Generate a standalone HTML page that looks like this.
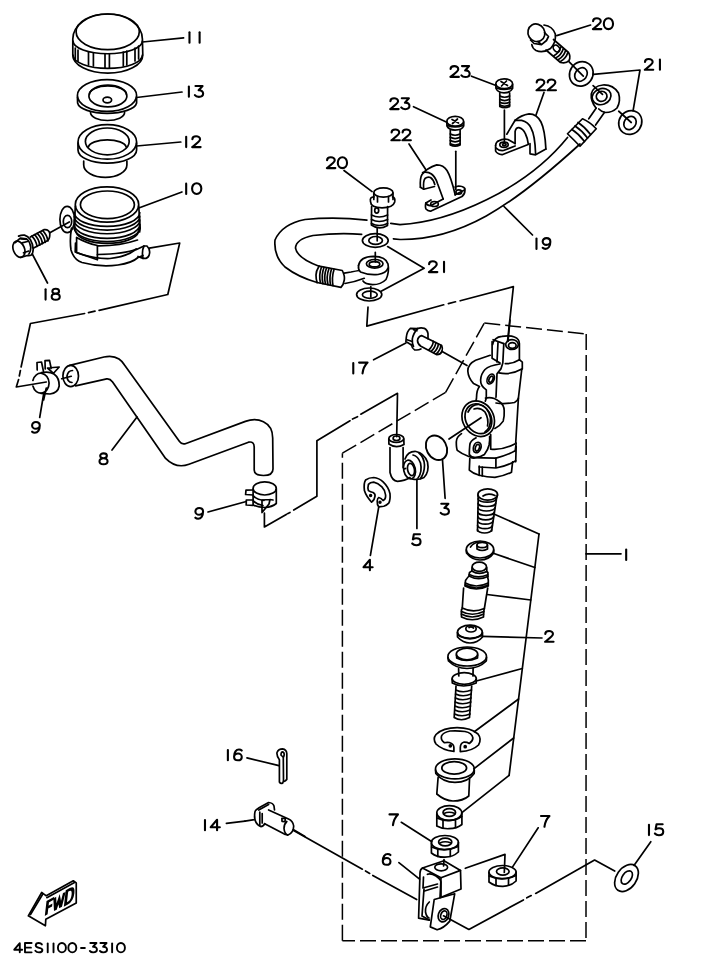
<!DOCTYPE html>
<html><head><meta charset="utf-8">
<style>
html,body{margin:0;padding:0;background:#fff;}
body{width:719px;height:966px;overflow:hidden;}
svg{display:block;}
svg text{font-family:"Liberation Sans",sans-serif;fill:#000;}
</style></head><body>
<svg width="719" height="966" viewBox="0 0 719 966">
<g fill="none" stroke="#000" stroke-width="1.7" stroke-linecap="round" stroke-linejoin="round">
<!-- PART 11 cap -->
<g id="p11">
<path d="M72.8 39 A34.8 25 0 0 1 142.4 39 L142.8 55 A35 18.2 0 0 1 72.8 55 Z"/>
<ellipse cx="107.7" cy="31.8" rx="31.6" ry="17.8"/>
<path d="M73 41 A34.6 12.7 0 0 0 142.4 41"/>
<path d="M73 55 A34.6 13.3 0 0 0 142.4 55"/>
<path d="M75.3 48 L75.3 59 M78 50 L78 61 M88.5 52 L88.5 65 M93.4 53 L93.4 66 M105 54 L105 68 M109.4 54 L109.4 68 M123.3 52 L123.3 66 M126.8 51 L126.8 65 M135 48 L135 61 M138.6 46 L138.6 59"/>
</g>
<path d="M142.5 42 L183.6 37.8"/>

<!-- PART 13 -->
<g id="p13">
<ellipse cx="107" cy="95.5" rx="29.6" ry="15.9"/>
<path d="M77.4 97 L77.6 103 A29.6 11.3 0 0 0 136.6 103 L136.6 97"/>
<ellipse cx="107.9" cy="96" rx="19" ry="10.8"/>
<path d="M89.4 94.5 A18.5 8.5 0 0 1 126.4 94.5"/>
<ellipse cx="107.3" cy="100" rx="4.3" ry="2.8"/>
<path d="M90.5 112.5 A17 8 0 0 0 124.6 112.5"/>
</g>
<path d="M136.6 97.5 L182 92"/>

<!-- PART 12 -->
<g id="p12">
<ellipse cx="107.3" cy="141.9" rx="29.3" ry="17.3"/>
<path d="M78 143 L78 150 A29.3 13.2 0 0 0 136.6 150 L136.6 143"/>
<ellipse cx="107.3" cy="141.4" rx="21.9" ry="13.4"/>
<path d="M88.4 147 A19 8 0 0 1 126.2 147"/>
<path d="M83.7 161 L83.7 165 A21.6 12.4 0 0 0 126.9 165 L126.9 161"/>
</g>
<path d="M136.6 146 L180.8 142"/>

<!-- PART 10 reservoir -->
<g id="p10">
<ellipse cx="107" cy="204.5" rx="31.7" ry="17.7"/>
<ellipse cx="107.4" cy="204.8" rx="27" ry="13.8"/>
<path d="M74.3 212.6 A32.6 13.8 0 0 0 139.8 212.6 M74.3 216.2 A32.6 13.8 0 0 0 139.8 216.2 M74.3 219.9 A32.6 13.8 0 0 0 139.8 219.9 M74.3 224.6 A32.6 13.8 0 0 0 139.8 224.6 M74.3 227.7 A32.6 13.8 0 0 0 139.8 227.7"/>
<path d="M75.3 206 L74.3 229 M138.7 206 L140.2 228 L139.6 232"/>
<path d="M76 232 A31.5 13 0 0 0 138.5 232"/>
<path d="M71.5 228 Q69.5 240 71 250 Q74 260 82 262.5 Q100 267.5 118 265 Q132 263 138 257.5 L143 255.5"/>
<path d="M75.5 243 L75.2 252 Q92 259 110 258.5 Q126 257 135.7 249.5"/>
<path d="M76.6 237.5 L76.6 252.5 L97.4 259.8 L97.4 245.5 M76.6 237.5 Q86 243 97.4 245.5"/>
<path d="M97.4 245.8 Q120 246 137.5 240 M97.4 254.5 Q125 254 136.5 249"/>
<path d="M136.5 249.5 L144 246 L147 246 Q150 249 149.6 253 Q149 257.5 146 258.4 L143 258.4 L138 256.5"/>
<path d="M144 246 Q141.5 251 143 258.4"/>
<ellipse cx="67.2" cy="219.5" rx="7.3" ry="13.2"/>
<ellipse cx="67.5" cy="221.5" rx="4.2" ry="6.2"/>
</g>
<path d="M138.8 208 L181.9 192"/>

<!-- PART 18 bolt -->
<g id="p18">
<ellipse cx="18.9" cy="249.2" rx="5.6" ry="8.4" transform="rotate(-22 18.9 249.2)"/>
<path d="M15.3 242.5 L20.3 238.2 L26.5 238.8 M20.8 257.4 L27.4 255.5"/>
<path d="M22 242.8 L27.5 241.5 M23.5 252.8 L28.8 251"/>
<path d="M18.6 236.1 Q21.5 234.8 24.5 235.1 Q28 236 30.3 239.5 Q33 244 33.2 249.2 Q33 253.5 31.3 255 Q29.5 256 27.4 255.5"/>
<path d="M21.1 239 L27.4 239.5 Q30 242 30.8 247.3 Q30.8 251.5 28.9 254.1"/>
<path d="M30.3 237 L43.9 229.7 Q48.8 229 49.8 233.5 Q50 238.5 47.8 240.4 L33.2 248.2"/>
<path d="M31.81 236.05 Q36.20 240.33 37.03 246.41 M34.53 234.68 Q38.92 238.96 39.74 245.04 M37.25 233.32 Q41.64 237.60 42.46 243.68 M39.96 231.95 Q44.36 236.23 45.18 242.31 M42.68 230.58 Q47.08 234.86 47.90 240.94"/>
</g>
<path d="M49.8 232.7 L69.3 222"/>
<path d="M32.3 254 L47.5 283"/>

<!-- dashed connection reservoir -> hose -->
<path d="M149.3 248.2 L179.7 243 L167.8 294.5 L99.1 310.3 M95 311.2 L88.5 312.6 M84.6 313.5 L30.4 323.5 L21.1 367 M20.4 370.5 L19.3 376 M18.6 379.5 L16.3 387 L46.3 382"/>

<!-- PART 9 upper clamp -->
<g id="p9a">
<path d="M32.9 380.5 A8.3 10.4 0 0 1 49.1 383 A8.3 10.4 0 0 1 32.9 386"/>
<path d="M41.5 372.6 Q49 371 54 374 Q59.5 378 59.2 386 Q58 393 50 394 L41 393.4"/>
<path d="M37.2 370 L37 362.5 L41.5 362 L43.5 371.5 M45.2 369 L45 360.6 L49.5 360.3 L51.2 368.5 M47.5 368 L59.2 367 L53.5 373.3 Z"/>
<path d="M43.6 400 L46.3 388"/>
</g>
<path d="M43.75 393.5 L39.7 417.5"/>

<!-- PART 8 hose -->
<g id="p8">
<ellipse cx="70.7" cy="376" rx="7.8" ry="10.7"/>
<path d="M72.5 370.5 Q68 370.5 67 376 Q67 382 72 382.5"/>
<path d="M61.7 378.75 L71.25 376.25"/>
<path d="M69.7 365.3 L104 357 Q113 355 119 359 Q122 361 124.5 365 L179.5 441.5 Q182 445 186 443.5 L245.4 421.4 C257 417 272.7 421 272.7 438 L273 469 Q273 475.5 263.5 475.5 Q254.2 475.5 254.2 470 L254.2 447 Q254.2 441 248.5 442.2 L189 464.3 Q176 469 165.6 458.4 L112.6 381.9 Q110 378.5 106.7 378.9 L75.6 385.8"/>
</g>
<path d="M112 450 L137 417"/>

<!-- PART 9 lower clamp -->
<g id="p9b">
<ellipse cx="264.7" cy="488.4" rx="11.6" ry="6.6"/>
<path d="M253.1 489 L253.1 505 Q258 507.5 265 507.5 Q272 507 276.3 503.5 L276.3 489"/>
<path d="M253.3 496 Q258 500 264 500.5 M253.3 501 Q258 505 263 505.5"/>
<path d="M253 490 L246 490.2 L245.6 494.5 L253 495 M253 500 L246.3 500 L246.2 505 L253 505.3"/>
<path d="M262 500 L270 499.5 L269 504 L262 512.5 Z M270 499.5 L273 500"/>
</g>
<path d="M208 512 L246.25 501.5"/>
<path d="M264.4 513.1 L264.4 526.9 L286.25 514.4 M287.5 513.7 L290 512.5 M293.75 510 L316.9 496.25 L316.9 440.8 L350 420.8 M352.5 419 L357.5 416.7 M360.8 414.2 L397.5 393.3 L396.7 436.7"/>

<!-- dashed leader banjo to body -->
<path d="M368 307.2 L366.8 326.1 L443.7 304.8 M448.4 303.6 L455.5 301.8 M460.2 300.8 L513.4 286.6 L507.5 341.5"/>

<!-- PART 20 left bolt -->
<g id="p20a">
<ellipse cx="383.4" cy="192.5" rx="9.6" ry="4.6"/>
<path d="M373.8 193 L373.8 199.5 M393 193 L393 199.5 M377.5 196.5 L377.5 202 M388.5 196.5 L388.5 202"/>
<path d="M370.5 201.5 Q369.5 197 374 196.8 M392.5 196.8 Q395.5 197.5 394.7 202 Q393 207.8 382 207.8 Q370.5 207.5 370.5 201.5"/>
<path d="M371.6 206.5 L371.4 225 Q379 230.5 387.5 225.5 L387.6 206.5"/>
<ellipse cx="376.7" cy="210.5" rx="2" ry="2.6"/>
<path d="M371.5 215 Q379 219 387.6 215 M371.5 219.5 Q379 223.5 387.6 219.5 M371.5 223.5 Q379 227.5 387.6 223.5"/>
</g>
<path d="M344 170.5 L372.1 191.6"/>
<path d="M377.2 228.5 L377.2 240.8"/>

<!-- washer 21 mid -->
<ellipse cx="375.3" cy="240.5" rx="12.9" ry="6.8"/>
<ellipse cx="375.6" cy="240.4" rx="6.8" ry="3.9"/>
<!-- banjo left -->
<g id="banjoA">
<path d="M358.5 265.5 Q360 256.5 373.5 256.3 Q386 256.5 388 264 Q389.5 272 386 279.5 Q381 284.7 372.5 284.7 Q365 284 363 281"/>
<path d="M358.5 265.5 Q358 269.5 360.5 272 Q369 275.5 378 274.5 Q386.5 273 388 268"/>
<ellipse cx="374.7" cy="263.8" rx="8.3" ry="4.3"/>
<ellipse cx="374.5" cy="264.2" rx="5.3" ry="2.6"/>
<path d="M375.3 252.4 L375.3 262"/>
</g>
<!-- washer 21 low -->
<ellipse cx="369.2" cy="294.5" rx="12.6" ry="6.5"/>
<ellipse cx="369.8" cy="294.8" rx="7.4" ry="3.6"/>
<path d="M370.8 286.7 L370.8 297"/>
<path d="M387.6 246.6 L424.1 268.2 L381.1 291.2"/>

<!-- hose 19 -->
<path d="M366.9 220.1 Q335 216.5 305 219.5 Q282 224 275 240 Q273.5 256 285 267 Q298 277 317.1 282.5"/>
<path d="M361.7 234.3 Q338 232.5 313 235.5 Q296 239 295.5 248 Q297 258 319 266.2"/>
<path d="M390.8 223.3 L400 224.6 C450 222 525 190 567.5 137.5"/>
<path d="M393.4 238.8 L400 239.5 C460 240 510 208 580 144"/>
<!-- ferrule left -->
<path d="M319 266.2 L342.3 270.5 Q345 276 344.3 280 Q343.5 285 341 287.3 L317.1 282.5"/>
<path d="M319 266.2 Q316 271 316 275 Q316 279.5 317.1 282.5"/>
<path d="M321.5 267 Q318.5 275 320.5 283.2 M324 267.5 Q321 275 323 283.7 M326.5 268 Q323.5 276 325.5 284.2 M329 268.5 Q326 276.5 328 284.7 M331.5 269 Q329 277 330.5 285.2 M334 269.4 Q331.5 277.5 333 285.7"/>
<path d="M344.3 273.1 L351 272 Q356 271 359.1 270.5 M344.9 283.5 Q355 282 364.3 278.3"/>
<path d="M504 206.5 L532.5 235"/>

<!-- clamp 22 left -->
<g id="p22a">
<path d="M420.4 187.2 Q419.8 178 422 174.5 Q427 168 436.7 164.9 Q443.5 165 447 170.5 Q451 177 455.2 194.8"/>
<path d="M422.6 172.5 Q428 171.5 431.5 174 Q435.5 177 437.5 183.5 L443.2 199"/>
<path d="M423.7 189.2 Q423 181 425 178.5 Q427.5 176.5 430.5 177.5 Q433.5 179.5 434.8 184.5"/>
<path d="M420.4 187.2 L423.7 189.2 L434.5 186.5"/>
<path d="M431 200 L425.8 203 Q425 207.5 426 209 Q428 211.5 431 211.1 L462 196.5 Q465 194 464.9 190.5 L464.9 188.5 Q463 186 458.5 186 L455 187"/>
<path d="M425.8 203 Q427.5 206 431 205.5 M443.2 199 L431 205.5 M455.2 194.8 L464.5 190"/>
<ellipse cx="434.5" cy="204" rx="3.8" ry="2.5"/>
<ellipse cx="458.8" cy="192" rx="2.9" ry="2.2"/>
</g>
<path d="M409 144 L425.9 169.8"/>
<!-- screw 23 left -->
<g id="p23a">
<ellipse cx="455.2" cy="121.3" rx="8.4" ry="4.9"/>
<path d="M446.8 122 L447 126 Q449 130 455 130.1 Q462 130 463.7 126 L463.8 122"/>
<path d="M447.5 125.5 Q455 128.5 463 125.5"/>
<path d="M452 119.5 L458.5 123 M457.5 119 L452.5 123.5"/>
<path d="M450.3 130 L450.3 145 Q455 147.5 460.1 145 L460.1 130"/>
<path d="M450.3 134 Q455 136.5 460.1 134 M450.3 137.3 Q455 139.8 460.1 137.3 M450.3 140.6 Q455 143 460.1 140.6 M450.3 143.8 Q455 146.3 460.1 143.8"/>
</g>
<path d="M413.5 106.7 L446.8 122.3"/>
<path d="M455.8 151.3 L455.8 189.3"/>

<!-- clamp 22 right -->
<g id="p22b">
<path d="M515.1 120.3 Q521 115 529.1 113.8 Q537 114 541 122 Q545 130 545.9 149.1"/>
<path d="M515.1 120.3 L521.6 120.3 Q528.5 122 531 128 Q535 135 535.6 153.8"/>
<path d="M515.1 143.6 L515.1 131.5 Q516 127.5 518.9 127.7 Q523 128.5 525.5 134 Q527.5 138 528.2 143.6"/>
<path d="M515.1 120.3 L506.8 134.2"/>
<path d="M530 143.6 L530 153.8 L535.6 154.8 L545.9 149.1"/>
<path d="M498.3 141 Q503 138.5 508 139.5 L515.1 143.6"/>
<path d="M495.6 145.5 L495.6 151 Q497 154 502.1 154.7 L528.2 144.5"/>
<path d="M495.6 145.5 Q496 142 498.3 141 M495.8 147.8 Q499 151 503.5 150.5 L515.1 146"/>
<ellipse cx="504" cy="144.8" rx="4.2" ry="2.6"/>
<ellipse cx="504.3" cy="144.8" rx="1.8" ry="1.1"/>
</g>
<path d="M544 92.5 L536 115"/>
<!-- screw 23 right -->
<g id="p23b">
<ellipse cx="504.2" cy="83.8" rx="8.4" ry="4.9"/>
<path d="M495.8 84.5 L496 88.5 Q498 92.8 504 92.8 Q510.5 92.8 512.6 88.5 L512.7 84.5"/>
<path d="M496.5 88 Q504 91 512 88"/>
<path d="M501 81.5 L507.5 85.5 M506.5 81 L501.5 86"/>
<path d="M499.8 92.8 L499.8 106.5 Q504.5 109 509.6 106.5 L509.6 92.8"/>
<path d="M499.8 96 Q504.5 98.5 509.6 96 M499.8 99.3 Q504.5 101.8 509.6 99.3 M499.8 102.2 Q504.5 104.7 509.6 102.2 M499.8 105 Q504.5 107.5 509.6 105"/>
</g>
<path d="M471.5 76.2 L496 85.5"/>
<path d="M504.4 110 L504.4 142.6"/>

<!-- bolt 20 right -->
<g id="p20b">
<ellipse cx="536.4" cy="32.8" rx="8.3" ry="9" transform="rotate(-30 536.4 32.8)"/>
<path d="M530.5 40 L534 43.5 L541.5 44.7 L546.5 40.5 M538 41.5 L541.5 44.7 M544.5 32.5 L548.5 36.5 L546.5 40.5"/>
<path d="M544 25 Q552.5 26 555.3 34 Q556.3 42.5 550.5 48.5 Q543 53.5 536 50.5 Q532.3 48.3 531.8 44.5"/>
<path d="M553.5 39.5 L568.5 52.5 Q571 56.5 569 60.5 Q566 64 560.5 62.5 L546 50"/>
<ellipse cx="556.5" cy="48.5" rx="2.8" ry="3.9" transform="rotate(-40 556.5 48.5)"/>
<path d="M560.87 47.01 Q559.08 52.76 553.87 55.75 M563.19 48.88 Q561.41 54.62 556.19 57.62 M565.52 50.74 Q563.73 56.48 558.51 59.48 M567.84 52.60 Q566.06 58.35 560.84 61.34"/>
</g>
<path d="M556.7 35.6 L590.6 25"/>
<path d="M568.9 61.7 L583.3 76.1"/>
<!-- washer 21 top -->
<ellipse cx="581.3" cy="73.9" rx="11.5" ry="12.6" transform="rotate(35 581.3 73.9)"/>
<ellipse cx="581" cy="74.5" rx="5.8" ry="7.2" transform="rotate(35 581 74.5)"/>
<path d="M593.4 74.3 L640 70 L633.1 110.6"/>
<!-- banjo right -->
<path d="M596 108 Q590.5 101 591.3 94 Q593 86 603 85 Q613 84.5 618.5 93 Q621 101 617 108 Q612.5 112.5 605.5 112.5 Q601 111.5 598.8 109"/>
<ellipse cx="601.6" cy="96.6" rx="9.6" ry="7.9" transform="rotate(-20 601.6 96.6)"/>
<ellipse cx="601.6" cy="96.3" rx="5.4" ry="5" transform="rotate(-20 601.6 96.3)"/>
<path d="M593.1 85.6 L602.5 94.4"/>
<!-- washer 21 bottom -->
<ellipse cx="630.3" cy="122.5" rx="11.2" ry="12.3" transform="rotate(35 630.3 122.5)"/>
<ellipse cx="630" cy="123" rx="5.8" ry="7" transform="rotate(35 630 123)"/>
<path d="M618.75 111.25 L631.25 122.5"/>
<!-- ferrule right -->
<path d="M596.25 108.1 L588.75 118.75 M604.4 112.5 L595.6 125"/>
<path d="M582.5 118.75 Q590 122 596.25 128.75 L580 146.25 Q574 140 567.5 133.75 Z"/>
<path d="M578 122.5 Q585 127 590.5 134.5 M575 126 Q582 130.5 587.5 138 M572 129.5 Q579 134 584.5 141.5"/>
<!-- dashed box part 1 -->
<g stroke-width="1.5" stroke-dasharray="16 5" stroke-linecap="butt">
<path d="M484.3 323.1 L586.2 334"/>
<path d="M586.2 334 L586 940.7"/>
<path d="M586 940.7 L342.4 940.7"/>
<path d="M342.4 940.7 L342.4 453.2"/>
<path d="M342.4 453.2 L445.6 392.4"/>
<path d="M445.6 392.4 L484.3 323.1"/>
</g>
<path d="M586 553.8 L621 553.8"/>
<!-- master cylinder body -->
<g id="mc">
<path d="M492.6 344.6 Q494 337 501.9 336.3 Q510 335 514.5 337 Q519.4 339 519.4 343.6 L519.4 360.2"/>
<ellipse cx="512" cy="344.6" rx="6.3" ry="4.9"/>
<ellipse cx="512.3" cy="345.5" rx="3.8" ry="2.8"/>
<path d="M493.1 339.7 L503.8 343.6 M492.1 341.7 L492.1 358.2 L500 363"/>
<path d="M503.8 343.6 L502.8 363.1 L500.9 368.9 L497 373.8 L496 397.2"/>
<path d="M498 342.5 L497 362"/>
<path d="M505.3 363.6 Q512.6 364 519.4 359.7 L522.3 362.1 L522.3 369"/>
<path d="M499 372.8 Q510.6 375.5 521.8 369 L518.4 398.2 L515.7 443"/>
<path d="M496 403 Q504 404.5 514.5 402.5 Q517.5 401 518.4 398.2"/>
<path d="M490.2 355.3 L475.6 360.2 Q467.8 364 467.8 371 Q468.3 378 473.6 383.6 L479.5 386.5 Q476.5 390 476.5 398 L476 401"/>
<path d="M499.9 364 Q489.2 365.5 485 369.5 Q480.9 374 480.6 380 Q480.4 386 486.3 389.9 L486.3 398.2 L485.3 401.1"/>
<ellipse cx="490.7" cy="379" rx="3.3" ry="5.3" transform="rotate(25 490.7 379)"/>
<ellipse cx="491" cy="379.2" rx="1.8" ry="3.3" transform="rotate(25 491 379.2)"/>
<ellipse cx="478.2" cy="418.7" rx="15.5" ry="18.5" transform="rotate(-30 478.2 418.7)"/>
<ellipse cx="478.4" cy="418.7" rx="12.6" ry="15.6" transform="rotate(-30 478.4 418.7)"/>
<path d="M468 412 Q472 404 479 404.5 Q488 406 490.5 418 Q491 428 485 432" />
<path d="M474 409 Q480 407 485 412 Q489 419 487.5 426"/>
<path d="M485.5 398.1 Q493 396.5 499 401.3 Q504.2 405 504.2 410.6 Q504.5 417 503.2 421.1 Q500 426 494.9 428.4"/>
<path d="M461.5 433.6 Q456.3 437 456.3 441.9 Q456.3 448 457.3 450.3 Q462 454 468.8 456.5 L474 458.1"/>
<path d="M476.1 437.8 Q470 441 469.8 445 Q469.3 450 469.3 454.5 Q471 457.5 475 457.6 Q481 457 484.4 454.5 Q488 450 489.1 445 Q490 440 489.6 436.7"/>
<ellipse cx="477.2" cy="447.5" rx="3.7" ry="5.4" transform="rotate(20 477.2 447.5)"/>
<ellipse cx="477.4" cy="447.7" rx="2" ry="3.4" transform="rotate(20 477.4 447.7)"/>
<path d="M490.7 434.6 L490.7 449.2 Q502.2 450.5 514.7 444"/>
<path d="M470.9 457.6 L495.9 458.1 Q508 455 515.2 450.8 L516.2 443 M516.2 446 L515.7 461.8"/>
<path d="M495.9 458.1 L495.9 468 M479.2 467 L495.9 468 Q507 466 515.7 460.7"/>
<path d="M469.8 458.6 L469.3 470.1 Q473 473.5 479.2 475.3 Q487 477.4 494.9 477.4 Q504 476 511.5 472.2 L512.6 461.8"/>
<path d="M479.2 466 L479.2 475.3 M482.3 467 L482.3 476"/>
</g>
<path d="M510 320 L508 341.5"/>
<path d="M449 439 L481 417.7"/>

<!-- bolt 17 -->
<g id="p17">
<path d="M410.4 328.3 L417.4 328.6 M406.3 337.3 L405.9 341.5 L411.5 345 M410.4 328.3 Q407 331 406.3 337.3"/>
<path d="M413.5 329.6 L417 330.7 M407 339.7 L411.5 341.2"/>
<path d="M417.4 328.6 Q420.5 327.5 424.3 328.3 Q427.5 330 428 333.5 L428 338.7 M420.9 349 Q418 350.5 414.5 349.8 Q412 348.5 411.5 345"/>
<path d="M417.4 328.6 Q413 334 412.3 339 Q412 344 413.5 346.5"/>
<path d="M421.5 335.6 L441.7 345.6 Q443 348.5 442 351.5 Q440.5 354.5 436.9 354.7 L420.9 346.3 Q417.5 344 417.5 340.5 Q418 336.5 421.5 335.6"/>
<path d="M433.38 341.35 Q432.68 346.43 428.81 349.79 M435.89 342.71 Q435.19 347.79 431.32 351.15 M438.40 344.07 Q437.70 349.15 433.83 352.51 M440.92 345.43 Q440.21 350.51 436.34 353.87"/>
</g>
<path d="M373.6 359.8 L405.9 342.9"/>
<path d="M441.7 351.2 L467 365.5"/>

<!-- fitting 5 -->
<g id="p5">
<ellipse cx="396.3" cy="438.5" rx="7.5" ry="4"/>
<ellipse cx="396.5" cy="438.3" rx="3.4" ry="2.3"/>
<path d="M388.8 439 L388.9 444 Q396 449 404 444.5 L403.8 439"/>
<path d="M390 447.5 L390 472.5 Q392 481 397.5 481.3 Q405 481 410 477.5 M403.1 447.5 L403.1 467.5 Q404 469.5 405.5 468.5"/>
<ellipse cx="409.5" cy="469.5" rx="5.8" ry="9.5" transform="rotate(-12 409.5 469.5)"/>
<ellipse cx="411" cy="469.5" rx="3.4" ry="6.2" transform="rotate(-12 411 469.5)"/>
<path d="M405 459 Q408 451 416 451.5 Q424 453 427.5 462 Q429.5 472 424 477.5 Q418.5 480.5 412 479"/>
<path d="M413 455 Q418 456 420.5 463 Q422.5 472 418 478"/>
<path d="M419 453 Q424 457 424.5 465 Q424.5 473 420.5 478.5"/>
</g>
<path d="M416.9 479 L416.9 528.5"/>
<!-- o-ring 3 -->
<ellipse cx="436.5" cy="447.8" rx="10" ry="12.8" transform="rotate(-28 436.5 447.8)" stroke-width="1.9"/>
<path d="M442.5 460 L445.1 498.3"/>
<!-- circlip 4 -->
<path d="M371.6 502.2 Q366 496 364.4 490.6 Q363.5 483 365.6 480 Q369 477.5 373.75 477.5 Q379 478 383.1 481.9 Q388.5 487 390 493.75 Q390.5 500 388.75 503.1 Q386.5 505.5 383.75 506.25 L378.75 506.9 Q377 505 377.2 501 Q377.5 498 378.75 497.5 Q381.5 498 383.1 500.6 Q386 499 385.6 495 Q385 490 381.9 486.9 Q378 483 373.75 482.2 Q370 482.5 368.4 484.4 Q367.5 487.5 368.4 490.6 Q370.5 492 373.1 492.5 Q375.5 494 375 496.25 Q374.5 499.5 372.5 501.25 Z"/>
<circle cx="370.6" cy="495.6" r="0.9" fill="#000"/>
<circle cx="380" cy="502.2" r="0.9" fill="#000"/>
<path d="M378.75 506.9 L370.4 555.4"/>

<!-- spring -->
<g id="spring">
<ellipse cx="487.7" cy="494.5" rx="9.8" ry="5.6"/>
<path d="M483 496 Q488 492.5 495 495.5"/>
<path d="M478 495 L478.2 499 M497.5 495 L496.2 500"/>
<path d="M478.20 499.00 A9.00 3.2 0 0 0 496.20 499.00 M478.10 503.40 A8.73 3.2 0 0 0 495.55 503.40 M478.00 507.80 A8.45 3.2 0 0 0 494.90 507.80 M477.90 512.20 A8.18 3.2 0 0 0 494.25 512.20 M477.80 516.60 A7.90 3.2 0 0 0 493.60 516.60 M477.70 521.00 A7.62 3.2 0 0 0 492.95 521.00 M477.60 525.40 A7.35 3.2 0 0 0 492.30 525.40 M477.50 529.80 A7.07 3.2 0 0 0 491.65 529.80"/>
<path d="M478.2 499 L477.5 531 M496.3 500 L491.6 531"/>
</g>
<!-- seal -->
<g id="seal">
<ellipse cx="480" cy="549.5" rx="13.7" ry="8.5"/>
<path d="M466.3 550 L466.5 553 Q472 560 480 560 Q489 560 493.7 553 L493.7 550"/>
<ellipse cx="482.2" cy="545" rx="5.2" ry="2.6"/>
<path d="M477 545 L477 549 Q482 552 487.5 549 L487.5 545"/>
<path d="M470.5 547 Q474 542 480 542"/>
</g>
<!-- piston -->
<g id="piston">
<ellipse cx="479.3" cy="566.8" rx="7.2" ry="4.6"/>
<path d="M472.1 567.5 L471.8 571 Q479 575.5 486.8 571.5 L486.8 567.5"/>
<path d="M469.5 572.5 L469 576 Q478 581 487.9 576.5 L487.9 572.5 Q486.5 571.5 486.8 571.5 M469.5 572.5 Q471 571.5 471.8 571"/>
<path d="M469.2 574.5 Q478 579 487.8 574.8"/>
<path d="M465.5 580.5 L465 586 Q476 592 488.3 586 L488.3 580 Q487.5 577.5 487.9 576.5 M465.5 580.5 Q467.5 577.5 469 576"/>
<path d="M465.3 583 Q476 589 488.2 583 M465.2 585 Q476 591 488.2 585"/>
<path d="M463.6 588 L462.2 609 M487.7 588 L484.3 609"/>
<path d="M462.2 608 Q473 613.5 484.3 608.5"/>
<path d="M461.5 609.5 L461.3 614 Q472 620 483.7 614 L484 609.5"/>
<path d="M461.5 611.5 Q472 617 483.8 611.5"/>
<path d="M461.4 614.5 L461.5 617 Q472 622.5 483.5 617 L483.6 614.5"/>
</g>
<!-- cup 2 -->
<g id="cup2">
<ellipse cx="469.9" cy="632" rx="12.4" ry="6.8"/>
<path d="M457.4 632.5 L457.5 637 Q463 643 470 643 Q477.5 643 482.5 637 L482.5 632.5"/>
<path d="M458.5 635.5 Q470 641 481.5 635.5"/>
<ellipse cx="471" cy="628.8" rx="5.2" ry="3.2"/>
<path d="M469 627.5 Q471 626 473.5 628"/>
</g>
<!-- push rod -->
<g id="rod">
<ellipse cx="467.2" cy="656.5" rx="19.3" ry="9.5"/>
<path d="M447.9 657.5 L448.5 661 Q456 668.5 467 668.5 Q479 668.5 486.3 661 L486.6 657.5"/>
<ellipse cx="467" cy="654" rx="10.7" ry="5.8"/>
<path d="M456.5 655 L456.7 658 Q466 663 477.5 658 L477.7 655"/>
<path d="M458.6 668.5 L458.8 676 M473.1 668 L473 676"/>
<ellipse cx="464.2" cy="678.5" rx="12.1" ry="5.8"/>
<path d="M452.1 679 L452.3 683 Q463 689 476.2 683 L476.3 679"/>
<path d="M456 686 L454.2 717.5 Q461 722 469.5 717.5 L471.7 686"/>
<path d="M455.8 690 Q463 693.5 471.5 690 M455.6 694 Q463 697.5 471.2 694 M455.4 698 Q462.5 701.5 471 698 M455.2 702 Q462.5 705.5 470.8 702 M455 706 Q462 709.5 470.5 706 M454.8 710 Q462 713.5 470.2 710 M454.6 714 Q462 717.5 470 714"/>
</g>
<!-- internal leader lines -->
<path d="M539 534 L509.1 775.4"/>
<path d="M493.3 513.8 L539 534"/>
<path d="M493.3 553.3 L534.9 567.5"/>
<path d="M487 594.5 L530.8 600"/>
<path d="M482.3 636.4 L542 638"/>
<path d="M476.3 681 L522.3 668.5"/>
<path d="M474.3 731.8 L518.6 699"/>
<path d="M473.8 768.8 L513.7 738"/>
<path d="M461.9 812.7 L509.1 775.4"/>

<!-- circlip lower -->
<path d="M453.9 751.4 Q442 750 436 744 Q432.5 739 436 734.5 Q443 727.7 457.1 727.7 Q471 727.7 478 734 Q482 739 478.5 745 Q472.5 751 460.3 751.6 L460.3 747.5 Q460.5 743 463.7 742.2 Q467 742 469.3 743.5 Q473 741 472.9 737.8 Q472 733 465 731.5 Q458 730.5 450 731 Q443 732.5 441.5 736 Q440.5 740 444.4 742.7 Q447 742 449.3 742.5 Q453.9 744 453.9 747.5 Z"/>
<circle cx="450.3" cy="745.8" r="1" fill="#000"/>
<circle cx="465.2" cy="746.7" r="1" fill="#000"/>
<!-- bushing -->
<g id="bush">
<ellipse cx="454.9" cy="768.9" rx="19.4" ry="10"/>
<ellipse cx="454.2" cy="767.9" rx="12.4" ry="6.3"/>
<path d="M435.5 770 L435.8 773.5 Q443 782.4 455 782.4 Q468 782.4 474.2 773.5 L474.3 770"/>
<path d="M438.1 777.5 L436.8 794 Q445 801 453 801 Q463 801 468.8 796 L469.6 777.5"/>
</g>
<!-- nut upper -->
<g id="nut1">
<ellipse cx="449.3" cy="813" rx="12.5" ry="7.3"/>
<ellipse cx="449.3" cy="812.5" rx="6.3" ry="3.8"/>
<path d="M444 813.5 Q449 811 455 813.5"/>
<path d="M436.8 814 L436.8 826 Q442 829 449 828.7 Q457 828.5 461.9 824.5 L461.9 813"/>
<path d="M437 818 Q449 824 461.8 816.5"/>
<path d="M443 820.5 L443 828 M455.5 820 L455.5 827.5"/>
</g>
<!-- nut 7 middle -->
<g id="nut2">
<ellipse cx="444.9" cy="842.5" rx="13.5" ry="7"/>
<ellipse cx="445.2" cy="842" rx="6.6" ry="3.8"/>
<path d="M440 843 Q445 840.5 451 843"/>
<path d="M431.4 843 L431.4 853 Q437 857.5 445 857.2 Q453 857 458.4 852 L458.4 842.5"/>
<path d="M431.6 847 Q444 853 458.2 846.5"/>
<path d="M437.8 849.5 L437.8 856.5 M450.3 849.5 L450.3 856.5"/>
</g>
<path d="M401.3 822.3 L431.9 841.7"/>
<!-- clevis 6 -->
<g id="p6">
<path d="M422.5 868 L444 860.7 L460.5 870.4 L441 877.75 Z"/>
<ellipse cx="441.2" cy="867.3" rx="6.4" ry="3.5"/>
<path d="M441 877.75 L440 897.7 M460.5 870.4 L461 889 L440 897.7"/>
<path d="M422.5 868 Q420 869.5 420 873 L418.6 918.2 L429.3 920.1"/>
<path d="M427.4 874.3 Q431 873 436 876 Q440.5 879 441 882 L441 897"/>
<path d="M423.5 877 L423 888 L437.5 884 M424.5 891 L437.5 887"/>
<path d="M424 889 L422 916 L429.3 920.1"/>
<path d="M434.2 899.5 L430.3 926.9 L437.1 929.8 Q444 928 449.8 921.1 L454.7 893.8 L434.2 899.5"/>
<path d="M429.3 902 Q425 906 425.5 912 Q426.5 917 429 918"/>
<ellipse cx="443.5" cy="915.2" rx="5.2" ry="6.8" transform="rotate(20 443.5 915.2)"/>
<ellipse cx="443.8" cy="915.2" rx="3" ry="4.4" transform="rotate(20 443.8 915.2)"/>
<path d="M444 859.5 L443.6 866"/>
</g>
<path d="M398.9 862.6 L419.6 879.2"/>
<!-- nut 7 right -->
<g id="nut3">
<ellipse cx="502.5" cy="872.1" rx="13.6" ry="6.6"/>
<ellipse cx="502.8" cy="871.5" rx="6.3" ry="3.6"/>
<path d="M489 872.5 L489 882 Q495 886.6 503 886.4 Q511 886 516.1 881 L516.1 872"/>
<path d="M489.2 876 Q502 882 515.9 875.5"/>
<path d="M496 879 L496 885.5 M508.5 878.5 L508.5 885"/>
</g>
<path d="M512.6 866.9 L538.2 827.8"/>
<path d="M465.3 868.3 L505 854.4 L504.3 872.5"/>
<!-- pin line from 14 through clevis -->
<path d="M293.6 830.6 L362.4 869.2 M365.5 871 L369.7 873.4 M372.8 875.5 L416.7 899.5"/>
<path d="M443.5 915.8 L468.9 929.5 L523.4 900 M526.8 897.8 L531.2 895.6 M535.7 893.4 L594.6 860 L614.7 871.1"/>

<!-- part 14 pin -->
<g id="p14">
<path d="M254.6 817 Q254.5 811 256 810 L259.5 807.5 L268.6 802.5 Q273 802.8 274 806 L274.5 809.9"/>
<path d="M254.6 817 Q255 824 260.7 826.6 Q263.5 826.5 264.7 823.7"/>
<path d="M258.8 810 L268.6 804.5 M259.8 812 L259.8 825.5"/>
<path d="M262.2 813.5 L262.2 823 M268.6 809.9 L288.5 819 Q293 821 293.7 826 Q293.5 833 288 835 L285.3 834.5 L264.7 823.7"/>
<path d="M286.8 821.5 Q284 824 284 828.5 Q284.5 833.5 287.5 835"/>
<path d="M281.9 818.3 L285.3 818.5 L285 821.7 L282 821.3 Z"/>
</g>
<path d="M245 821.2 L254.3 819.7"/>
<path d="M226.4 823.4 L245 821.2"/>
<path d="M293.2 829.6 L305 836.4"/>
<!-- part 16 cotter -->
<path d="M279.4 759.7 Q276.5 756 277 752.5 Q278.5 748.9 282.5 748.9 Q286.5 749.5 286.8 753.5 L286.8 779.4 Q285.5 781 284 781.5 M279.4 759.7 L279.4 782 Q280.5 784 282.5 783.3 L283.5 781"/>
<path d="M283.3 757.5 L283.5 780.5 M281 755 Q281 751.5 283 752 Q285.3 753.5 283.3 757.5 Q282 756 281 755"/>
<path d="M247 757.8 L278.9 765.6"/>
<!-- part 15 washer -->
<ellipse cx="626.5" cy="878" rx="10" ry="15" transform="rotate(35 626.5 878)"/>
<ellipse cx="626.8" cy="877.5" rx="4.5" ry="7.5" transform="rotate(35 626.8 877.5)"/>
<path d="M650.8 841.7 L634 865.4"/>
<!-- FWD arrow -->
<path d="M28.3 915.8 L41.7 892.5 L44.6 894.6 L46.25 895.8 L73.3 880.8 L76.25 882.9 L76.25 902.9 L45.8 919.2 L45.4 925.8 Z"/>
<path d="M30.5 914.5 L42.8 894 M46.8 897.7 L74.5 882.6"/>
<g transform="translate(45 915.8) skewY(-29) skewX(-7)" stroke-width="2.8" stroke-linecap="butt" stroke-linejoin="miter">
<path d="M1.2 0 L1.2 -12.6 L7.6 -12.6 M1.2 -6.8 L6.4 -6.8"/>
<path d="M8.2 -12.6 L10.4 0 L13 -8.8 L15.6 0 L17.8 -12.6"/>
<path d="M20.4 0 L20.4 -12.6 L23 -12.6 Q27.2 -12.6 27.2 -6.3 Q27.2 0 23 0 Z"/>
</g>
</g>
<g fill="none" stroke="#000" stroke-linecap="round" stroke-linejoin="round">
<path transform="translate(188.30 31.90) scale(0.9833 0.8998)" vector-effect="non-scaling-stroke" stroke-width="2.100" d="M1.2 0.5 L1.2 12"/>
<path transform="translate(198.43 31.90) scale(0.9833 0.8998)" vector-effect="non-scaling-stroke" stroke-width="2.100" d="M1.2 0.5 L1.2 12"/>
<path transform="translate(187.70 86.00) scale(0.9833 0.8998)" vector-effect="non-scaling-stroke" stroke-width="2.100" d="M1.2 0.5 L1.2 12"/>
<path transform="translate(194.29 86.00) scale(0.9833 0.8998)" vector-effect="non-scaling-stroke" stroke-width="2.100" d="M1.2 0 L8.4 0 L4.4 4.8 C7.2 4.6 9 6.2 9 8.4 C9 10.8 7 12.1 4.6 12.1 C2.8 12.1 1.4 11.4 0.6 10.2"/>
<path transform="translate(185.00 136.30) scale(0.9833 0.8998)" vector-effect="non-scaling-stroke" stroke-width="2.100" d="M1.2 0.5 L1.2 12"/>
<path transform="translate(191.59 136.30) scale(0.9833 0.8998)" vector-effect="non-scaling-stroke" stroke-width="2.100" d="M0.8 3.2 C0.8 0.9 2.6 0 4.6 0 C6.8 0 8.6 1.3 8.6 3.4 C8.6 5.6 6 7.6 0.6 12 L9.2 12"/>
<path transform="translate(185.00 183.20) scale(0.9833 0.8998)" vector-effect="non-scaling-stroke" stroke-width="2.100" d="M1.2 0.5 L1.2 12"/>
<path transform="translate(191.59 183.20) scale(0.9833 0.8998)" vector-effect="non-scaling-stroke" stroke-width="2.100" d="M5.2 0 C2.4 0 0.5 2.6 0.5 6 C0.5 9.4 2.4 12 5.2 12 C8 12 9.9 9.4 9.9 6 C9.9 2.6 8 0 5.2 0 Z"/>
<path transform="translate(44.40 288.80) scale(0.9833 0.8998)" vector-effect="non-scaling-stroke" stroke-width="2.100" d="M1.2 0.5 L1.2 12"/>
<path transform="translate(50.99 288.80) scale(0.9833 0.8998)" vector-effect="non-scaling-stroke" stroke-width="2.100" d="M4.8 5.4 C2.8 5.4 1.4 4.3 1.4 2.7 C1.4 1.1 2.8 0 4.8 0 C6.8 0 8.2 1.1 8.2 2.7 C8.2 4.3 6.8 5.4 4.8 5.4 C2.5 5.4 0.7 6.7 0.7 8.7 C0.7 10.8 2.5 12.1 4.8 12.1 C7.1 12.1 8.9 10.8 8.9 8.7 C8.9 6.7 7.1 5.4 4.8 5.4 Z"/>
<path transform="translate(31.30 422.00) scale(0.9833 0.8998)" vector-effect="non-scaling-stroke" stroke-width="2.100" d="M8.6 4 C8.6 1.6 6.9 0 4.7 0 C2.4 0 0.8 1.7 0.8 3.8 C0.8 6 2.5 7.5 4.6 7.5 C6.8 7.5 8.6 6 8.6 4 C8.6 9 6.5 12 3.6 12 C2.4 12 1.5 11.6 0.8 10.8"/>
<path transform="translate(98.80 453.40) scale(0.9833 0.8998)" vector-effect="non-scaling-stroke" stroke-width="2.100" d="M4.8 5.4 C2.8 5.4 1.4 4.3 1.4 2.7 C1.4 1.1 2.8 0 4.8 0 C6.8 0 8.2 1.1 8.2 2.7 C8.2 4.3 6.8 5.4 4.8 5.4 C2.5 5.4 0.7 6.7 0.7 8.7 C0.7 10.8 2.5 12.1 4.8 12.1 C7.1 12.1 8.9 10.8 8.9 8.7 C8.9 6.7 7.1 5.4 4.8 5.4 Z"/>
<path transform="translate(194.60 508.00) scale(0.9833 0.8998)" vector-effect="non-scaling-stroke" stroke-width="2.100" d="M8.6 4 C8.6 1.6 6.9 0 4.7 0 C2.4 0 0.8 1.7 0.8 3.8 C0.8 6 2.5 7.5 4.6 7.5 C6.8 7.5 8.6 6 8.6 4 C8.6 9 6.5 12 3.6 12 C2.4 12 1.5 11.6 0.8 10.8"/>
<path transform="translate(592.30 18.30) scale(0.9833 0.8998)" vector-effect="non-scaling-stroke" stroke-width="2.100" d="M0.8 3.2 C0.8 0.9 2.6 0 4.6 0 C6.8 0 8.6 1.3 8.6 3.4 C8.6 5.6 6 7.6 0.6 12 L9.2 12"/>
<path transform="translate(603.31 18.30) scale(0.9833 0.8998)" vector-effect="non-scaling-stroke" stroke-width="2.100" d="M5.2 0 C2.4 0 0.5 2.6 0.5 6 C0.5 9.4 2.4 12 5.2 12 C8 12 9.9 9.4 9.9 6 C9.9 2.6 8 0 5.2 0 Z"/>
<path transform="translate(644.20 59.00) scale(0.9833 0.8998)" vector-effect="non-scaling-stroke" stroke-width="2.100" d="M0.8 3.2 C0.8 0.9 2.6 0 4.6 0 C6.8 0 8.6 1.3 8.6 3.4 C8.6 5.6 6 7.6 0.6 12 L9.2 12"/>
<path transform="translate(658.75 59.00) scale(0.9833 0.8998)" vector-effect="non-scaling-stroke" stroke-width="2.100" d="M1.2 0.5 L1.2 12"/>
<path transform="translate(449.80 66.10) scale(0.9833 0.8998)" vector-effect="non-scaling-stroke" stroke-width="2.100" d="M0.8 3.2 C0.8 0.9 2.6 0 4.6 0 C6.8 0 8.6 1.3 8.6 3.4 C8.6 5.6 6 7.6 0.6 12 L9.2 12"/>
<path transform="translate(460.81 66.10) scale(0.9833 0.8998)" vector-effect="non-scaling-stroke" stroke-width="2.100" d="M1.2 0 L8.4 0 L4.4 4.8 C7.2 4.6 9 6.2 9 8.4 C9 10.8 7 12.1 4.6 12.1 C2.8 12.1 1.4 11.4 0.6 10.2"/>
<path transform="translate(535.90 79.50) scale(0.9833 0.8998)" vector-effect="non-scaling-stroke" stroke-width="2.100" d="M0.8 3.2 C0.8 0.9 2.6 0 4.6 0 C6.8 0 8.6 1.3 8.6 3.4 C8.6 5.6 6 7.6 0.6 12 L9.2 12"/>
<path transform="translate(546.91 79.50) scale(0.9833 0.8998)" vector-effect="non-scaling-stroke" stroke-width="2.100" d="M0.8 3.2 C0.8 0.9 2.6 0 4.6 0 C6.8 0 8.6 1.3 8.6 3.4 C8.6 5.6 6 7.6 0.6 12 L9.2 12"/>
<path transform="translate(389.60 98.30) scale(0.9833 0.8998)" vector-effect="non-scaling-stroke" stroke-width="2.100" d="M0.8 3.2 C0.8 0.9 2.6 0 4.6 0 C6.8 0 8.6 1.3 8.6 3.4 C8.6 5.6 6 7.6 0.6 12 L9.2 12"/>
<path transform="translate(400.61 98.30) scale(0.9833 0.8998)" vector-effect="non-scaling-stroke" stroke-width="2.100" d="M1.2 0 L8.4 0 L4.4 4.8 C7.2 4.6 9 6.2 9 8.4 C9 10.8 7 12.1 4.6 12.1 C2.8 12.1 1.4 11.4 0.6 10.2"/>
<path transform="translate(390.80 129.50) scale(0.9833 0.8998)" vector-effect="non-scaling-stroke" stroke-width="2.100" d="M0.8 3.2 C0.8 0.9 2.6 0 4.6 0 C6.8 0 8.6 1.3 8.6 3.4 C8.6 5.6 6 7.6 0.6 12 L9.2 12"/>
<path transform="translate(401.81 129.50) scale(0.9833 0.8998)" vector-effect="non-scaling-stroke" stroke-width="2.100" d="M0.8 3.2 C0.8 0.9 2.6 0 4.6 0 C6.8 0 8.6 1.3 8.6 3.4 C8.6 5.6 6 7.6 0.6 12 L9.2 12"/>
<path transform="translate(326.30 157.30) scale(0.9833 0.8998)" vector-effect="non-scaling-stroke" stroke-width="2.100" d="M0.8 3.2 C0.8 0.9 2.6 0 4.6 0 C6.8 0 8.6 1.3 8.6 3.4 C8.6 5.6 6 7.6 0.6 12 L9.2 12"/>
<path transform="translate(337.31 157.30) scale(0.9833 0.8998)" vector-effect="non-scaling-stroke" stroke-width="2.100" d="M5.2 0 C2.4 0 0.5 2.6 0.5 6 C0.5 9.4 2.4 12 5.2 12 C8 12 9.9 9.4 9.9 6 C9.9 2.6 8 0 5.2 0 Z"/>
<path transform="translate(535.30 238.10) scale(0.9833 0.8998)" vector-effect="non-scaling-stroke" stroke-width="2.100" d="M1.2 0.5 L1.2 12"/>
<path transform="translate(541.89 238.10) scale(0.9833 0.8998)" vector-effect="non-scaling-stroke" stroke-width="2.100" d="M8.6 4 C8.6 1.6 6.9 0 4.7 0 C2.4 0 0.8 1.7 0.8 3.8 C0.8 6 2.5 7.5 4.6 7.5 C6.8 7.5 8.6 6 8.6 4 C8.6 9 6.5 12 3.6 12 C2.4 12 1.5 11.6 0.8 10.8"/>
<path transform="translate(428.30 261.30) scale(0.9833 0.8998)" vector-effect="non-scaling-stroke" stroke-width="2.100" d="M0.8 3.2 C0.8 0.9 2.6 0 4.6 0 C6.8 0 8.6 1.3 8.6 3.4 C8.6 5.6 6 7.6 0.6 12 L9.2 12"/>
<path transform="translate(442.85 261.30) scale(0.9833 0.8998)" vector-effect="non-scaling-stroke" stroke-width="2.100" d="M1.2 0.5 L1.2 12"/>
<path transform="translate(352.10 362.60) scale(0.9833 0.8998)" vector-effect="non-scaling-stroke" stroke-width="2.100" d="M1.2 0.5 L1.2 12"/>
<path transform="translate(358.69 362.60) scale(0.9833 0.8998)" vector-effect="non-scaling-stroke" stroke-width="2.100" d="M0.4 0 L9 0 Q4.6 4.8 3.9 12"/>
<path transform="translate(440.10 503.70) scale(0.9833 0.8998)" vector-effect="non-scaling-stroke" stroke-width="2.100" d="M1.2 0 L8.4 0 L4.4 4.8 C7.2 4.6 9 6.2 9 8.4 C9 10.8 7 12.1 4.6 12.1 C2.8 12.1 1.4 11.4 0.6 10.2"/>
<path transform="translate(411.70 534.30) scale(0.9833 0.8998)" vector-effect="non-scaling-stroke" stroke-width="2.100" d="M8.4 0 L2.2 0 L1.2 5.6 C2.2 4.8 3.4 4.4 4.7 4.4 C7.2 4.4 9 6 9 8.2 C9 10.6 7.2 12.1 4.6 12.1 C2.8 12.1 1.4 11.4 0.5 10.2"/>
<path transform="translate(363.20 559.50) scale(0.9833 0.8998)" vector-effect="non-scaling-stroke" stroke-width="2.100" d="M6.8 12 L6.8 0.2 L0.3 8.6 L9.6 8.6"/>
<path transform="translate(544.50 631.00) scale(0.9833 0.8998)" vector-effect="non-scaling-stroke" stroke-width="2.100" d="M0.8 3.2 C0.8 0.9 2.6 0 4.6 0 C6.8 0 8.6 1.3 8.6 3.4 C8.6 5.6 6 7.6 0.6 12 L9.2 12"/>
<path transform="translate(625.00 549.10) scale(0.9833 0.8998)" vector-effect="non-scaling-stroke" stroke-width="2.100" d="M1.2 0.5 L1.2 12"/>
<path transform="translate(389.10 814.40) scale(0.9833 0.8998)" vector-effect="non-scaling-stroke" stroke-width="2.100" d="M0.4 0 L9 0 Q4.6 4.8 3.9 12"/>
<path transform="translate(540.60 816.00) scale(0.9833 0.8998)" vector-effect="non-scaling-stroke" stroke-width="2.100" d="M0.4 0 L9 0 Q4.6 4.8 3.9 12"/>
<path transform="translate(382.00 854.00) scale(0.9833 0.8998)" vector-effect="non-scaling-stroke" stroke-width="2.100" d="M0.8 8 C0.8 10.4 2.5 12 4.7 12 C7 12 8.6 10.3 8.6 8.2 C8.6 6 6.9 4.5 4.8 4.5 C2.6 4.5 0.8 6 0.8 8 C0.8 3 2.9 0 5.8 0 C7 0 7.9 0.4 8.6 1.2"/>
<path transform="translate(647.80 824.30) scale(0.9833 0.8998)" vector-effect="non-scaling-stroke" stroke-width="2.100" d="M1.2 0.5 L1.2 12"/>
<path transform="translate(654.39 824.30) scale(0.9833 0.8998)" vector-effect="non-scaling-stroke" stroke-width="2.100" d="M8.4 0 L2.2 0 L1.2 5.6 C2.2 4.8 3.4 4.4 4.7 4.4 C7.2 4.4 9 6 9 8.2 C9 10.6 7.2 12.1 4.6 12.1 C2.8 12.1 1.4 11.4 0.5 10.2"/>
<path transform="translate(226.70 749.50) scale(0.9833 0.8998)" vector-effect="non-scaling-stroke" stroke-width="2.100" d="M1.2 0.5 L1.2 12"/>
<path transform="translate(233.29 749.50) scale(0.9833 0.8998)" vector-effect="non-scaling-stroke" stroke-width="2.100" d="M0.8 8 C0.8 10.4 2.5 12 4.7 12 C7 12 8.6 10.3 8.6 8.2 C8.6 6 6.9 4.5 4.8 4.5 C2.6 4.5 0.8 6 0.8 8 C0.8 3 2.9 0 5.8 0 C7 0 7.9 0.4 8.6 1.2"/>
<path transform="translate(203.80 819.50) scale(0.9833 0.8998)" vector-effect="non-scaling-stroke" stroke-width="2.100" d="M1.2 0.5 L1.2 12"/>
<path transform="translate(210.39 819.50) scale(0.9833 0.8998)" vector-effect="non-scaling-stroke" stroke-width="2.100" d="M6.8 12 L6.8 0.2 L0.3 8.6 L9.6 8.6"/>
<path transform="translate(14.00 943.00) scale(0.8500 0.7778)" vector-effect="non-scaling-stroke" stroke-width="1.900" d="M6.8 12 L6.8 0.2 L0.3 8.6 L9.6 8.6"/>
<path transform="translate(24.30 943.00) scale(0.8500 0.7778)" vector-effect="non-scaling-stroke" stroke-width="1.900" d="M8.6 0 L0.8 0 L0.8 12 L8.6 12 M0.8 6 L7.8 6"/>
<path transform="translate(34.90 943.00) scale(0.8500 0.7778)" vector-effect="non-scaling-stroke" stroke-width="1.900" d="M8.2 1.8 C7.4 0.6 6.2 0 4.7 0 C2.6 0 1 1.2 1 3.1 C1 7.2 8.8 5.2 8.8 9 C8.8 11 7 12.1 4.8 12.1 C3 12.1 1.4 11.4 0.5 10"/>
<path transform="translate(46.70 943.00) scale(0.8500 0.7778)" vector-effect="non-scaling-stroke" stroke-width="1.900" d="M1.2 0.5 L1.2 12"/>
<path transform="translate(52.50 943.00) scale(0.8500 0.7778)" vector-effect="non-scaling-stroke" stroke-width="1.900" d="M1.2 0.5 L1.2 12"/>
<path transform="translate(57.50 943.00) scale(0.8500 0.7778)" vector-effect="non-scaling-stroke" stroke-width="1.900" d="M5.2 0 C2.4 0 0.5 2.6 0.5 6 C0.5 9.4 2.4 12 5.2 12 C8 12 9.9 9.4 9.9 6 C9.9 2.6 8 0 5.2 0 Z"/>
<path transform="translate(67.90 943.00) scale(0.8500 0.7778)" vector-effect="non-scaling-stroke" stroke-width="1.900" d="M5.2 0 C2.4 0 0.5 2.6 0.5 6 C0.5 9.4 2.4 12 5.2 12 C8 12 9.9 9.4 9.9 6 C9.9 2.6 8 0 5.2 0 Z"/>
<path transform="translate(80.60 943.00) scale(0.8500 0.7778)" vector-effect="non-scaling-stroke" stroke-width="1.900" d="M0.5 6.5 L5 6.5"/>
<path transform="translate(89.30 943.00) scale(0.8500 0.7778)" vector-effect="non-scaling-stroke" stroke-width="1.900" d="M1.2 0 L8.4 0 L4.4 4.8 C7.2 4.6 9 6.2 9 8.4 C9 10.8 7 12.1 4.6 12.1 C2.8 12.1 1.4 11.4 0.6 10.2"/>
<path transform="translate(99.40 943.00) scale(0.8500 0.7778)" vector-effect="non-scaling-stroke" stroke-width="1.900" d="M1.2 0 L8.4 0 L4.4 4.8 C7.2 4.6 9 6.2 9 8.4 C9 10.8 7 12.1 4.6 12.1 C2.8 12.1 1.4 11.4 0.6 10.2"/>
<path transform="translate(111.10 943.00) scale(0.8500 0.7778)" vector-effect="non-scaling-stroke" stroke-width="1.900" d="M1.2 0.5 L1.2 12"/>
<path transform="translate(116.50 943.00) scale(0.8500 0.7778)" vector-effect="non-scaling-stroke" stroke-width="1.900" d="M5.2 0 C2.4 0 0.5 2.6 0.5 6 C0.5 9.4 2.4 12 5.2 12 C8 12 9.9 9.4 9.9 6 C9.9 2.6 8 0 5.2 0 Z"/>
</g>
</svg>
</body></html>
